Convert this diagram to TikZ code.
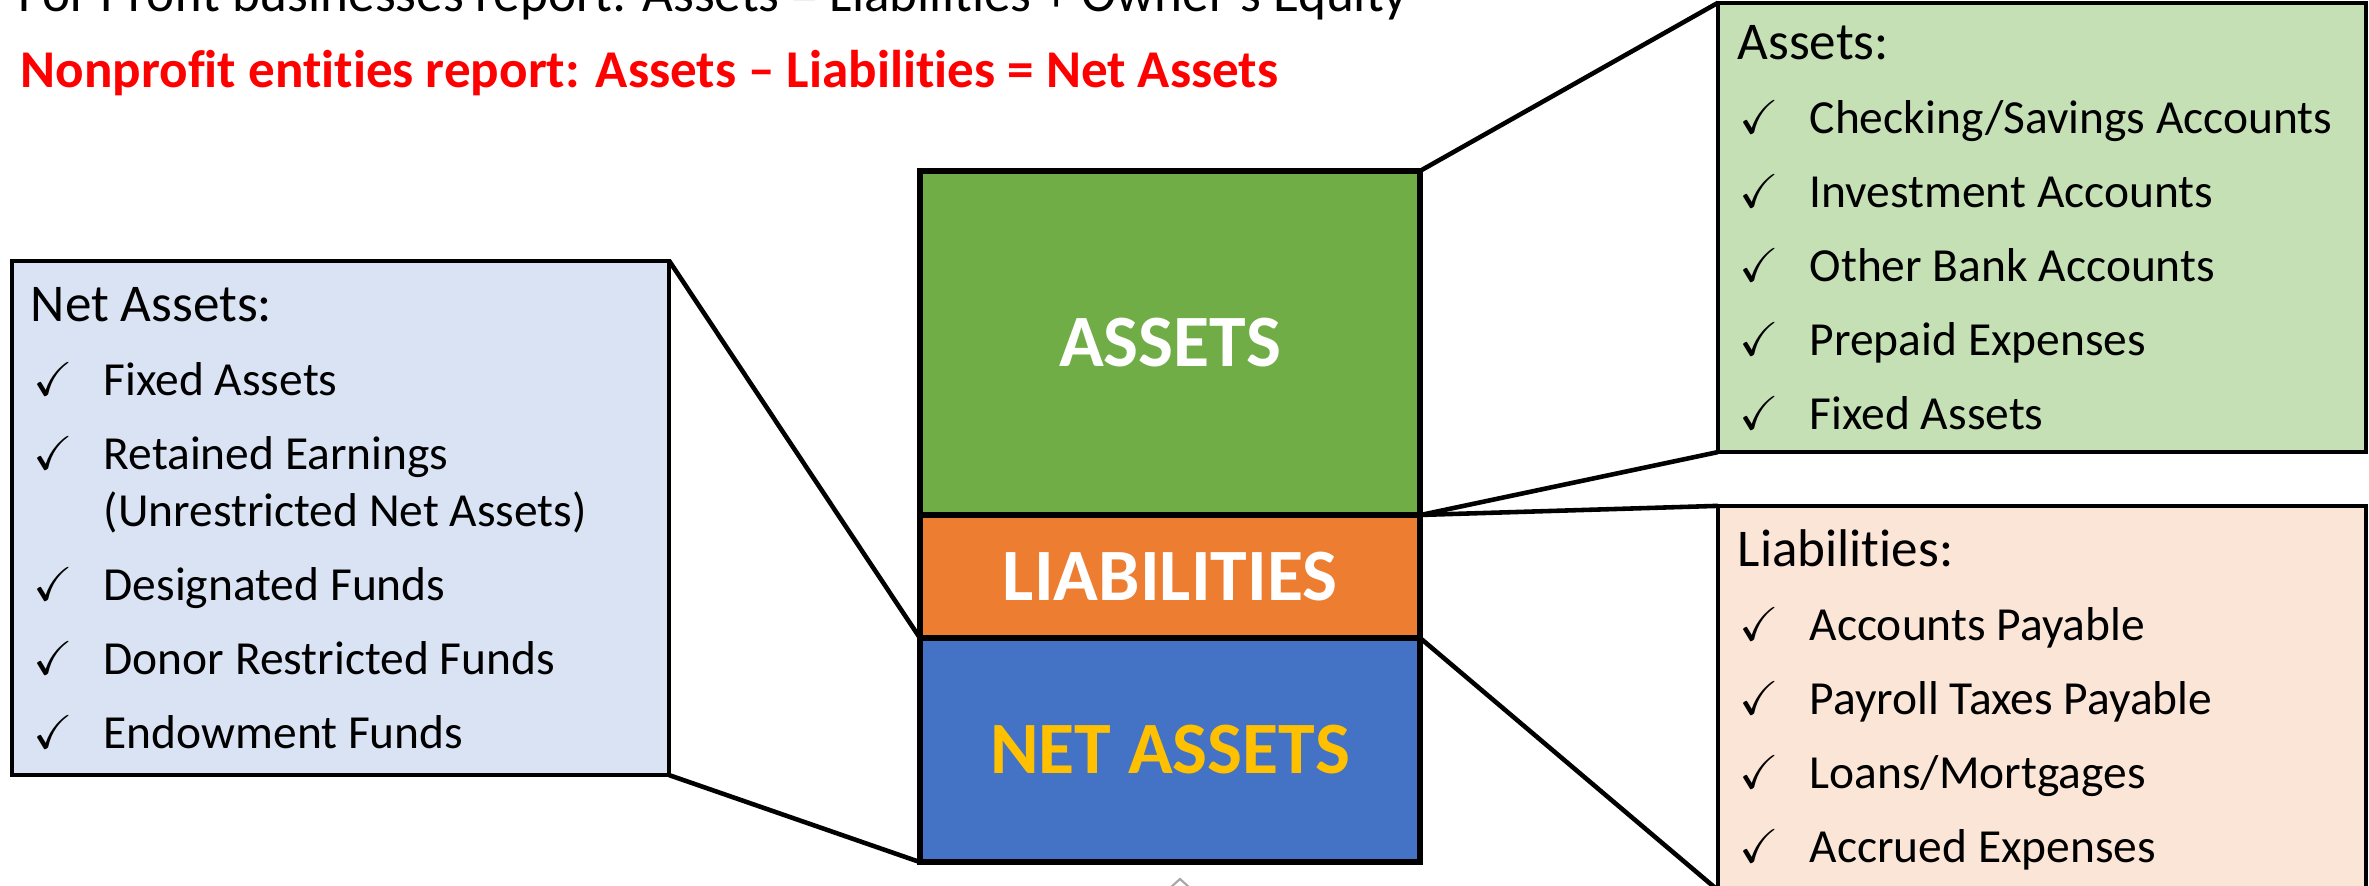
\documentclass[tikz,border=0pt]{standalone}
\usepackage{amssymb}
\usepackage{fontspec}
\setmainfont{Carlito}[Ligatures={TeX,NoCommon}]
\usepackage{tikz}
\definecolor{assetgreen}{HTML}{70AD47}
\definecolor{liaborange}{HTML}{ED7D31}
\definecolor{netblue}{HTML}{4472C4}
\definecolor{netgold}{HTML}{FFC000}
\definecolor{assetbg}{HTML}{C5E0B4}
\definecolor{liabbg}{HTML}{FBE5D6}
\definecolor{netbg}{HTML}{DAE3F3}

\begin{document}
\begin{tikzpicture}[x=0.01cm,y=-0.01cm,
    part/.style={draw,line width=1.7pt,outer sep=0pt,inner sep=0pt,minimum width=5cm,font=\fontsize{21}{25}\selectfont\bfseries},
    listbox/.style={draw,line width=1pt,outer sep=0pt,inner sep=0pt,minimum width=6.48cm},
    item/.style={anchor=base west,inner sep=0pt,font=\fontsize{13.5}{16}\selectfont},
    tick/.style={anchor=base west,inner sep=0pt,font=\fontsize{13.5}{16}\selectfont},
    heading/.style={anchor=base west,inner sep=0pt,font=\fontsize{15.1}{18}\selectfont},
    link/.style={line width=1.3pt}]
    \useasboundingbox (0,0) rectangle (2369,886);
    \node[heading] (forprofit) at (18,12) {For Profit businesses report: Assets = Liabilities + Owner's Equity};
    \node[heading,text=red,font=\fontsize{15.1}{18}\selectfont\bfseries] (nonprofit) at (20,88) {Nonprofit entities report: Assets – Liabilities = Net Assets};

    \node[listbox,fill=assetbg,minimum height=4.49cm] (assetlist) at (2042,227.5) {};
    \node[listbox,fill=liabbg,minimum height=3.84cm] (liablist) at (2042,698) {};
    \node[listbox,fill=netbg,minimum width=6.57cm,minimum height=5.14cm] (netlist) at (340.5,518) {};

    \node[part,fill=assetgreen,text=white,minimum height=3.44cm] (assets) at (1170,343) {ASSETS};
    \node[part,fill=liaborange,text=white,minimum height=1.23cm] (liab) at (1170,576.5) {LIABILITIES};
    \node[part,fill=netblue,text=netgold,minimum height=2.24cm] (net) at (1170,750) {NET ASSETS};

    \draw[link] (assets.north east) -- (assetlist.north west);
    \draw[link] (assets.south east) -- (assetlist.south west);
    \draw[link] (liab.north east) -- (liablist.north west);
    \draw[link] (liab.south east) -- (liablist.south west);
    \draw[link] (netlist.north east) -- (net.north west);
    \draw[link] (netlist.south east) -- (net.south west);

    \node[heading] (assethead) at (1737,60) {Assets:};
    \foreach \t [count=\i] in {Checking/Savings Accounts,Investment Accounts,Other Bank Accounts,Prepaid Expenses,Fixed Assets}{
        \node[tick] (assettick\i) at (1739,60+74*\i) {\checkmark};
        \node[item] (asset\i) at (1809,60+74*\i) {\t};
    }

    \node[heading] (liabhead) at (1737,567) {Liabilities:};
    \foreach \t [count=\i] in {Accounts Payable,Payroll Taxes Payable,Loans/Mortgages,Accrued Expenses}{
        \node[tick] (liabtick\i) at (1739,567+74*\i) {\checkmark};
        \node[item] (liab\i) at (1809,567+74*\i) {\t};
    }

    \node[heading] (nethead) at (30,322) {Net Assets:};
    \foreach \t/\y [count=\i] in {Fixed Assets/396,Retained Earnings/470,Designated Funds/601,Donor Restricted Funds/675,Endowment Funds/749}{
        \node[tick] (nettick\i) at (33,\y) {\checkmark};
        \node[item] (net\i) at (103,\y) {\t};
    }
    \node[item] (net2b) at (103,527) {(Unrestricted Net Assets)};

    \draw[gray!70,line width=0.6pt] (1170,888) -- (1180,879) -- (1190,888);
\end{tikzpicture}
\end{document}
